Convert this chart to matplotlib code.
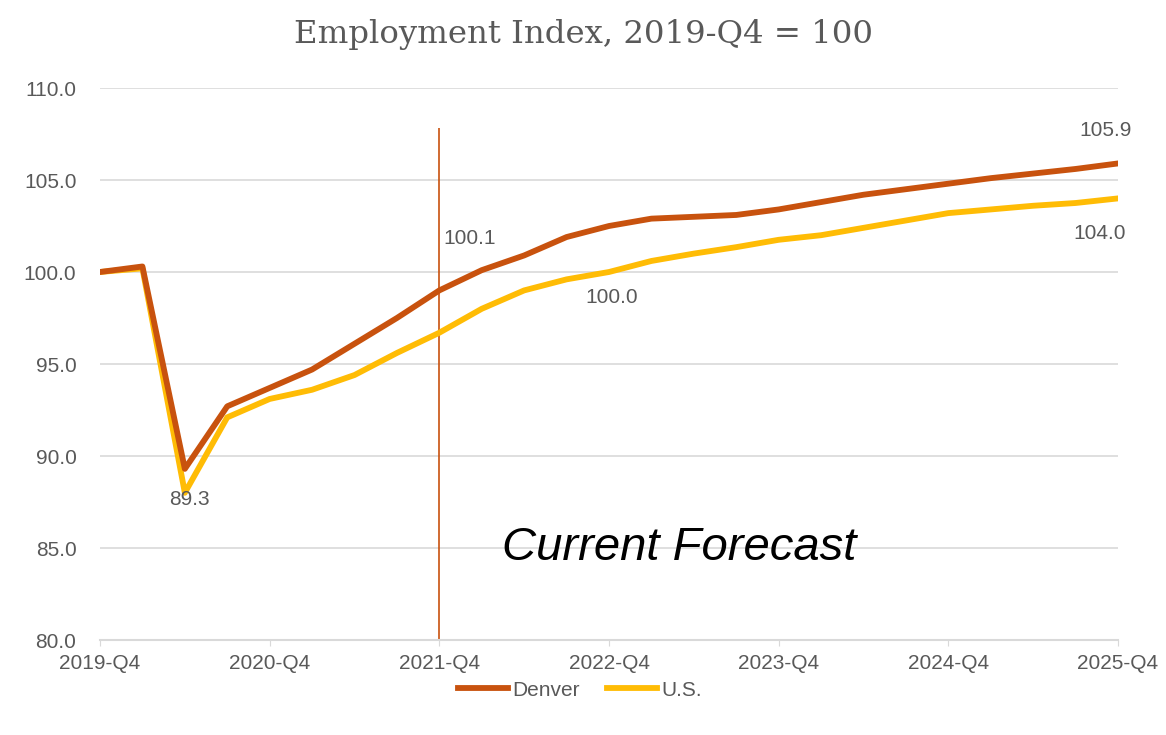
import matplotlib
matplotlib.use("Agg")
import matplotlib.pyplot as plt

quarters = ["2019-Q4", "2020-Q1", "2020-Q2", "2020-Q3",
            "2020-Q4", "2021-Q1", "2021-Q2", "2021-Q3",
            "2021-Q4", "2022-Q1", "2022-Q2", "2022-Q3",
            "2022-Q4", "2023-Q1", "2023-Q2", "2023-Q3",
            "2023-Q4", "2024-Q1", "2024-Q2", "2024-Q3",
            "2024-Q4", "2025-Q1", "2025-Q2", "2025-Q3",
            "2025-Q4"]
denver = [100.0, 100.3, 89.3, 92.7,
          93.7, 94.7, 96.1, 97.5,
          99.0, 100.1, 100.9, 101.9,
          102.5, 102.9, 103.0, 103.1,
          103.4, 103.8, 104.2, 104.5,
          104.8, 105.1, 105.35, 105.6,
          105.9]
us = [100.0, 100.2, 88.0, 92.1,
      93.1, 93.6, 94.4, 95.6,
      96.7, 98.0, 99.0, 99.6,
      100.0, 100.6, 101.0, 101.35,
      101.75, 102.0, 102.4, 102.8,
      103.2, 103.4, 103.6, 103.75,
      104.0]
series_names = ["Denver", "U.S."]
yticks = [80.0, 85.0, 90.0, 95.0, 100.0, 105.0, 110.0]
forecast_start = "2021-Q4"

c_den = "#C8520E"
c_us = "#FFBC05"
grid_c = "#D9D9D9"
txt_c = "#595959"

plt.rcParams["font.family"] = ["Liberation Sans", "DejaVu Sans"]

fig = plt.figure(figsize=(11.66, 7.35), dpi=100)
ax = fig.add_axes([100 / 1166, 1 - 640 / 735, (1118 - 100) / 1166, (640 - 88) / 735])

x = list(range(len(quarters)))
ax.plot(x, denver, color=c_den, lw=4.2, label=series_names[0], solid_joinstyle="round", zorder=3)
ax.plot(x, us, color=c_us, lw=4.2, label=series_names[1], solid_joinstyle="round", zorder=2)

ax.set_xlim(0, len(quarters) - 1)
ax.set_ylim(80, 110)
ax.set_yticks(yticks)
ax.set_yticklabels([f"{v:.1f}" for v in yticks])
tick_idx = [i for i, q in enumerate(quarters) if q.endswith("Q4")]
ax.set_xticks(tick_idx)
ax.set_xticklabels([quarters[i] for i in tick_idx])

ax.grid(axis="y", color=grid_c, lw=1.2)
ax.set_axisbelow(True)
for s in ["top", "right", "left"]:
    ax.spines[s].set_visible(False)
ax.spines["bottom"].set_color(grid_c)
ax.spines["bottom"].set_linewidth(1.5)
ax.tick_params(axis="y", length=0, labelsize=15, labelcolor=txt_c, pad=17)
ax.tick_params(axis="x", length=4, color=grid_c, labelsize=15, labelcolor=txt_c, pad=6)

fi = quarters.index(forecast_start)
ax.vlines(fi, 80, 107.8, color=c_den, lw=1.2, zorder=1)

ax.text(13.65, 85.0, "Current Forecast", fontsize=34, style="italic",
        ha="center", va="center", color="black")

def lab(i, vals, dx, dy):
    ax.annotate(f"{vals[i]:.1f}", (i, vals[i]), xytext=(dx, dy), textcoords="offset points",
                ha="center", va="center", fontsize=15, color=txt_c)

lab(2, denver, 3, -22)
lab(9, denver, -9, 23)
lab(12, us, 2, -18)
lab(24, denver, -9, 24)
lab(24, us, -13, -25)

ax.text(0.5, 1 - 34 / 735, "Employment Index, 2019-Q4 = 100", transform=fig.transFigure,
        ha="center", va="center", fontsize=23.3, color=txt_c, family="DejaVu Serif")

fig.legend(loc="center", bbox_to_anchor=(580 / 1166, 1 - 690 / 735), ncol=2, frameon=False,
           fontsize=15, handlelength=2.4, handletextpad=0.2, columnspacing=1.3,
           labelcolor=txt_c)

fig.savefig("out.png", dpi=100)
